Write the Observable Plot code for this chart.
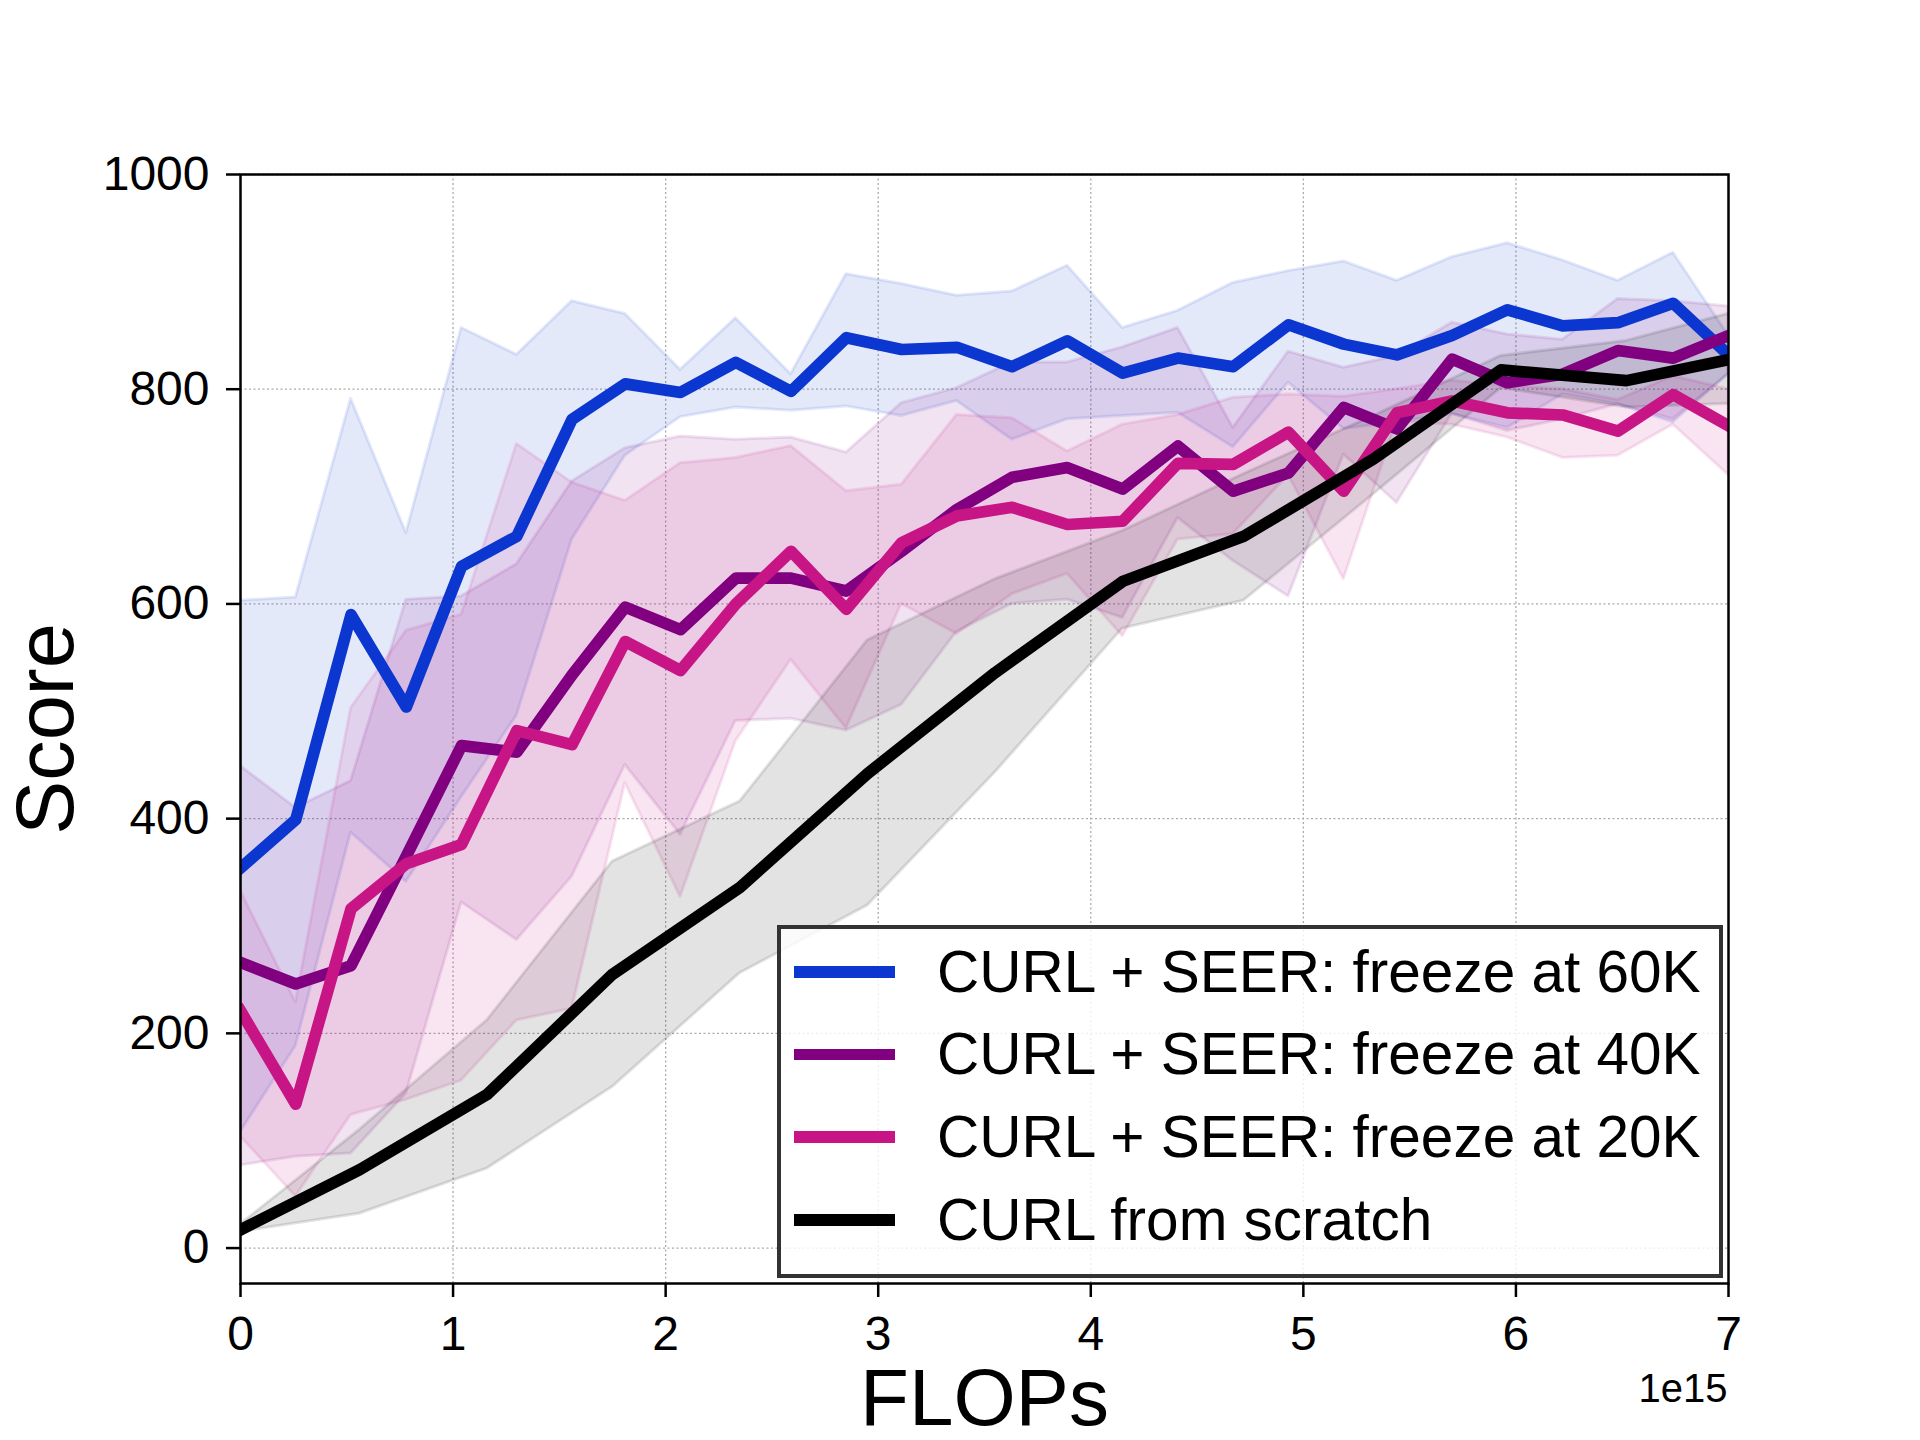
<!DOCTYPE html>
<html>
<head>
<meta charset="utf-8">
<script src="https://cdn.jsdelivr.net/npm/d3@7"></script>
<script src="https://cdn.jsdelivr.net/npm/@observablehq/plot@0.6"></script>
<style>
  html, body { margin: 0; padding: 0; background: #fff; }
  #fig { position: relative; width: 1920px; height: 1440px; font-family: "Liberation Sans", Arial, sans-serif; }
  #fig svg { position: absolute; left: 0; top: 0; }
  #legend { position: absolute; left: 777px; top: 925px; width: 946px; height: 353px; box-sizing: border-box;
            border: 4px solid #333; background: rgba(255,255,255,0.8); }
  .sw { position: absolute; left: 13px; width: 101px; height: 11.7px; }
  .lb { position: absolute; left: 156px; height: 58px; line-height: 58px; font-size: 58.5px; color: #000; white-space: nowrap; }
</style>
</head>
<body>
<div id="fig"></div>
<script>
// ---- data (x in units of 1e15 FLOPs) ----
const flopsSeer = [0, 0.26, 0.52, 0.78, 1.04, 1.30, 1.56, 1.81, 2.07, 2.33, 2.59, 2.85, 3.11, 3.37, 3.63, 3.89, 4.15, 4.41, 4.67, 4.93, 5.19, 5.44, 5.70, 5.96, 6.22, 6.48, 6.74, 7.00];
const flopsScratch = [0, 0.56, 1.16, 1.75, 2.35, 2.95, 3.55, 4.15, 4.72, 5.33, 5.93, 6.52, 7.11];

const seriesNames = ["CURL + SEER: freeze at 60K", "CURL + SEER: freeze at 40K", "CURL + SEER: freeze at 20K", "CURL from scratch"];
const seriesColors = ["#0b36cf", "#800080", "#c71585", "#000000"];

const mean60 = [354, 399, 590, 504, 635, 663, 772, 805, 797, 825, 798, 848, 837, 839, 821, 845, 815, 829, 821, 860, 842, 832, 850, 874, 859, 862, 880, 832];
const hi60   = [603, 606, 791, 666, 857, 832, 882, 870, 818, 866, 814, 907, 898, 887, 891, 915, 857, 873, 899, 910, 919, 901, 923, 936, 920, 901, 927, 850];
const lo60   = [108, 188, 387, 341, 420, 496, 660, 738, 774, 783, 780, 784, 775, 789, 753, 772, 775, 778, 746, 806, 763, 769, 777, 764, 795, 786, 769, 814];

const mean40 = [266, 246, 263, 365, 468, 462, 534, 597, 576, 624, 624, 612, 649, 688, 718, 727, 707, 747, 705, 722, 783, 763, 828, 806, 814, 836, 829, 850];
const hi40   = [449, 410, 435, 604, 607, 637, 714, 745, 756, 753, 755, 741, 787, 801, 825, 825, 839, 857, 764, 835, 820, 831, 862, 851, 846, 884, 882, 877];
const lo40   = [77, 85, 88, 144, 322, 287, 346, 450, 385, 491, 493, 482, 506, 574, 600, 604, 587, 680, 640, 607, 739, 694, 777, 761, 772, 786, 772, 814];

const mean20 = [221, 134, 316, 358, 376, 482, 469, 565, 538, 600, 649, 595, 657, 682, 690, 674, 677, 731, 730, 760, 705, 778, 789, 778, 776, 761, 795, 766];
const hi20   = [333, 229, 503, 575, 590, 749, 713, 696, 731, 736, 747, 705, 711, 776, 773, 742, 767, 776, 792, 795, 793, 800, 808, 803, 800, 790, 812, 800];
const lo20   = [104, 48, 124, 138, 156, 212, 223, 433, 327, 472, 548, 484, 600, 572, 609, 628, 570, 660, 665, 720, 623, 770, 767, 755, 736, 738, 767, 720];

const meanScratch = [17, 73, 143, 255, 336, 442, 536, 621, 663, 735, 818, 808, 832];
const hiScratch   = [22, 110, 212, 360, 416, 566, 623, 668, 721, 775, 831, 845, 876];
const loScratch   = [15, 32, 74, 150, 256, 319, 443, 577, 603, 702, 801, 783, 787];

const xTicks = [0, 1, 2, 3, 4, 5, 6, 7];
const yTicks = [0, 200, 400, 600, 800, 1000];

// ---- build rows ----
const groups = [
  [seriesNames[0], flopsSeer, mean60, lo60, hi60],
  [seriesNames[1], flopsSeer, mean40, lo40, hi40],
  [seriesNames[2], flopsSeer, mean20, lo20, hi20],
  [seriesNames[3], flopsScratch, meanScratch, loScratch, hiScratch]
];
const rows = [];
for (const [name, xs, m, lo, hi] of groups) {
  xs.forEach((x, i) => rows.push({name, x, y: m[i], lo: lo[i], hi: hi[i]}));
}

const gridStyle = {stroke: "#aaaaaa", strokeOpacity: 1, strokeWidth: 1.3, strokeDasharray: "2,2.5"};

const plot = Plot.plot({
  width: 1920,
  height: 1440,
  marginLeft: 240,
  marginRight: 192,
  marginTop: 174,
  marginBottom: 157,
  x: {domain: [0, 7]},
  y: {domain: [-33, 1000]},
  color: {domain: seriesNames, range: seriesColors},
  style: {fontFamily: "'Liberation Sans', Arial, sans-serif", color: "black", background: "white"},
  marks: [
    Plot.gridX(xTicks, gridStyle),
    Plot.gridY(yTicks, gridStyle),
    Plot.areaY(rows, {x: "x", y1: "lo", y2: "hi", z: "name", fill: "name", fillOpacity: 0.11,
                      stroke: "name", strokeOpacity: 0.11, strokeWidth: 3, clip: true}),
    Plot.lineY(rows, {x: "x", y: "y", z: "name", stroke: "name", strokeWidth: 11.7,
                      strokeLinejoin: "round", strokeLinecap: "square", clip: true}),
    Plot.frame({stroke: "black", strokeWidth: 2.5}),
    Plot.axisX(xTicks, {tickSize: 14, tickPadding: 18, fontSize: 48, strokeWidth: 2.5, label: null, tickFormat: d => String(d)}),
    Plot.axisY(yTicks, {tickSize: 14, tickPadding: 17, fontSize: 48, strokeWidth: 2.5, label: null, tickFormat: d => String(d)}),
    Plot.text(["FLOPs"], {text: d => d, frameAnchor: "bottom", dy: 116, fontSize: 80, lineAnchor: "middle", fill: "black"}),
    Plot.text(["Score"], {text: d => d, frameAnchor: "left", dx: -193, rotate: -90, fontSize: 81, lineAnchor: "middle", textAnchor: "middle", fill: "black"}),
    Plot.text(["1e15"], {text: d => d, frameAnchor: "bottom-right", dy: 106, dx: -1, fontSize: 40, lineAnchor: "middle", textAnchor: "end", fill: "black"})
  ]
});

const fig = document.getElementById("fig");
fig.appendChild(plot);

// ---- legend ----
const legend = document.createElement("div");
legend.id = "legend";
const rowCenters = [42.7, 125.4, 208.1, 290.8];
seriesNames.forEach((name, i) => {
  const sw = document.createElement("div");
  sw.className = "sw";
  sw.style.background = seriesColors[i];
  sw.style.top = (rowCenters[i] - 5.85) + "px";
  legend.appendChild(sw);
  const lb = document.createElement("div");
  lb.className = "lb";
  lb.textContent = name;
  lb.style.top = (rowCenters[i] - 29) + "px";
  legend.appendChild(lb);
});
fig.appendChild(legend);
</script>
</body>
</html>
